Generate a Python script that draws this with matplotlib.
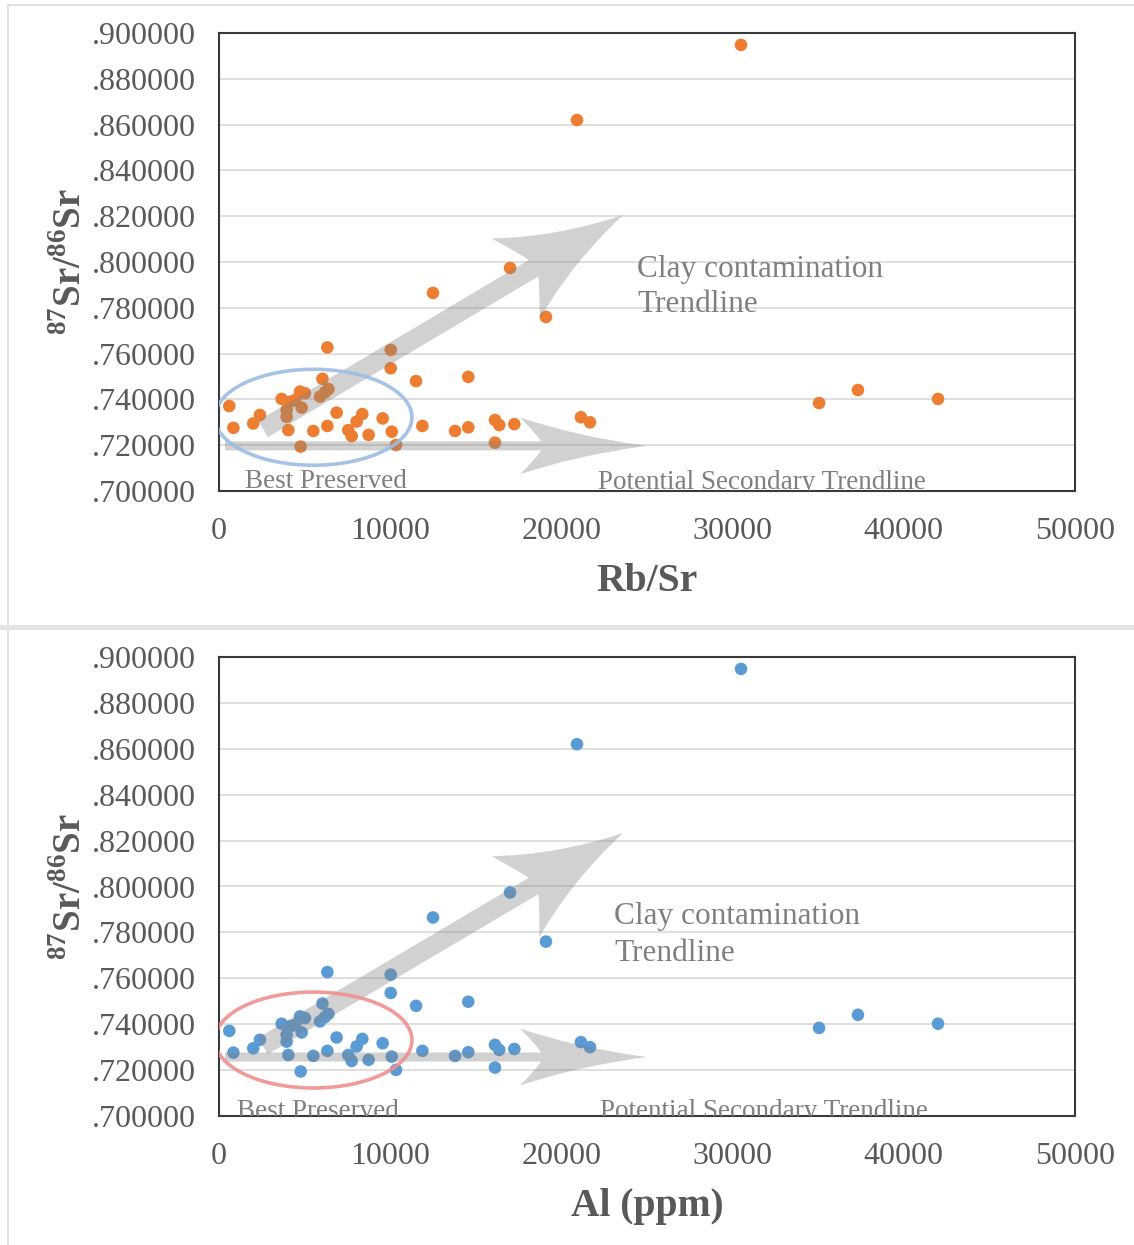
import numpy as np
import matplotlib
matplotlib.use("Agg")
import matplotlib.pyplot as plt
from matplotlib.path import Path
from matplotlib.patches import PathPatch, Ellipse, Rectangle
from matplotlib.lines import Line2D
from matplotlib.ticker import FuncFormatter, MultipleLocator

# Sample measurements (same samples in both panels)
x_vals = [30490, 20910, 17000, 12500, 19100, 6330, 10030, 10030, 11510, 14560,
          6040, 6390, 6190, 5900, 4730, 5020, 3660, 4150, 4440, 4830,
          3950, 3950, 600, 840, 2390, 2000, 4050, 4770, 5510, 6330,
          6870, 7550, 7750, 8040, 8370, 8740, 9560, 10090, 10340, 11880,
          13790, 14560, 16120, 16370, 16120, 17250, 21140, 21670, 35050, 37320,
          42000]
sr_ratio = [0.8948, 0.8620, 0.7974, 0.7865, 0.7760, 0.7627, 0.7616, 0.7536, 0.7480, 0.7498,
            0.7490, 0.7445, 0.7431, 0.7412, 0.7434, 0.7427, 0.7402, 0.7390, 0.7397, 0.7364,
            0.7354, 0.7324, 0.7371, 0.7276, 0.7332, 0.7295, 0.7266, 0.7194, 0.7262, 0.7284,
            0.7342, 0.7266, 0.7240, 0.7303, 0.7336, 0.7245, 0.7317, 0.7259, 0.7201, 0.7284,
            0.7262, 0.7278, 0.7310, 0.7288, 0.7211, 0.7292, 0.7322, 0.7300, 0.7384, 0.7441,
            0.7402]

x_labels = ["Rb/Sr", "Al (ppm)"]
marker_colors = ["#ED7D31", "#5B9BD5"]
ellipse_colors = ["#9dbde3", "#f08f8f"]

plt.rcParams["font.family"] = ["Liberation Serif", "DejaVu Serif"]
plt.rcParams["mathtext.fontset"] = "custom"
plt.rcParams["mathtext.rm"] = "Liberation Serif"
plt.rcParams["mathtext.bf"] = "Liberation Serif:bold"

W, H = 1134, 1245
fig = plt.figure(figsize=(W / 100, H / 100), dpi=100)
fig.patch.set_facecolor("white")


def fx(px):
    return px / W


def fy(py):
    return 1 - py / H


# Panel frames
panel_col = "#dcdcdc"
fig.add_artist(Line2D([fx(8), fx(8)], [fy(5), fy(625)], color=panel_col, lw=1.2))
fig.add_artist(Line2D([fx(8), 1], [fy(5), fy(5)], color=panel_col, lw=1.2))
fig.add_artist(Rectangle((0, fy(630)), 1, fy(625) - fy(630), color="#e3e3e3", lw=0))
fig.add_artist(Line2D([fx(8), fx(8)], [fy(630), 0], color=panel_col, lw=1.2))


def trend_arrow(ax, start, end, shaft_hw, head_len, head_hw, neck_len):
    p0 = ax.transData.transform(start)
    p1 = ax.transData.transform(end)
    d = p1 - p0
    L = np.hypot(*d)
    u = d / L
    n = np.array([-u[1], u[0]])

    def P(s, t):
        return p1 + u * s + n * t

    verts = [P(0, 0),
             P(-head_len * 0.55, head_hw * 0.32), P(-head_len, head_hw),
             P(-neck_len - 4, head_hw * 0.40), P(-neck_len, shaft_hw),
             P(-L, shaft_hw), P(-L, -shaft_hw), P(-neck_len, -shaft_hw),
             P(-neck_len - 4, -head_hw * 0.40), P(-head_len, -head_hw),
             P(-head_len * 0.55, -head_hw * 0.32), P(0, 0),
             P(0, 0)]
    codes = [Path.MOVETO,
             Path.CURVE3, Path.CURVE3,
             Path.CURVE3, Path.CURVE3,
             Path.LINETO, Path.LINETO, Path.LINETO,
             Path.CURVE3, Path.CURVE3,
             Path.CURVE3, Path.CURVE3,
             Path.CLOSEPOLY]
    verts = ax.transAxes.inverted().transform(np.array(verts))
    ax.add_patch(PathPatch(Path(verts, codes), transform=ax.transAxes,
                           fc="#808080", ec="none", alpha=0.36, zorder=4))


panels = [
    dict(rect=(fx(219), fy(491), fx(1075) - fx(219), fy(33) - fy(491)),
         diag=((2570, 0.7271), (23598, 0.8205)),
         horiz=((350, 0.7197), (25000, 0.7197)),
         ell=(5520, 0.7322, 11500, 0.0419),
         clay=(24415, 0.7934, 0.7780),
         best=(1519, 0.7015),
         second=(22138, 0.7008)),
    dict(rect=(fx(219), fy(1116), fx(1075) - fx(219), fy(657) - fy(1116)),
         diag=((2570, 0.7305), (23598, 0.8233)),
         horiz=((350, 0.7257), (25000, 0.7257)),
         ell=(5520, 0.7331, 11500, 0.0418),
         clay=(23072, 0.7837, 0.7675),
         best=(1051, 0.6990),
         second=(22255, 0.6990)),
]

txt_col = "#7f7f7f"
lab_col = "#595959"

for i, p in enumerate(panels):
    ax = fig.add_axes(p["rect"])
    ax.set_xlim(0, 50000)
    ax.set_ylim(0.7, 0.9)
    ax.xaxis.set_major_locator(MultipleLocator(10000))
    ax.yaxis.set_major_locator(MultipleLocator(0.02))
    ax.yaxis.set_major_formatter(FuncFormatter(lambda v, pos: f"{v:.6f}"[1:]))
    ax.grid(axis="y", color="#d9d9d9", lw=1.2, zorder=0)
    ax.set_axisbelow(True)
    for s in ax.spines.values():
        s.set_color("#3a3a3a")
        s.set_linewidth(1.5)
    ax.tick_params(axis="both", length=0, labelsize=23, labelcolor=lab_col)
    ax.tick_params(axis="x", pad=19)
    ax.tick_params(axis="y", pad=17)

    ax.scatter(x_vals, sr_ratio, s=82, color=marker_colors[i], edgecolors="none", zorder=3)

    trend_arrow(ax, *p["diag"], shaft_hw=9.5, head_len=125, head_hw=47, neck_len=104)
    trend_arrow(ax, *p["horiz"], shaft_hw=4.5, head_len=127, head_hw=28.5, neck_len=106)

    ex, ey, ew, eh = p["ell"]
    ax.add_patch(Ellipse((ex, ey), ew, eh, fill=False, ec=ellipse_colors[i],
                         lw=2.6, alpha=0.9, zorder=5))

    cx, cy1, cy2 = p["clay"]
    ax.text(cx, cy1, "Clay contamination", fontsize=22.5, color=txt_col, va="baseline", zorder=6)
    ax.text(cx, cy2, "Trendline", fontsize=22.5, color=txt_col, va="baseline", zorder=6)
    ax.text(*p["best"], "Best Preserved", fontsize=19.5, color=txt_col, va="baseline",
            zorder=6, clip_on=True)
    ax.text(*p["second"], "Potential Secondary Trendline", fontsize=19.5, color=txt_col,
            va="baseline", zorder=6, clip_on=True)

    ax.set_xlabel(x_labels[i], fontsize=28.5, fontweight="bold", color=lab_col, labelpad=12)
    ax.set_ylabel(r"$^{\mathbf{87}}$Sr/$^{\mathbf{86}}$Sr", fontsize=28, fontweight="bold",
                  color=lab_col, labelpad=1)

fig.savefig("out.png", dpi=100, facecolor="white")
